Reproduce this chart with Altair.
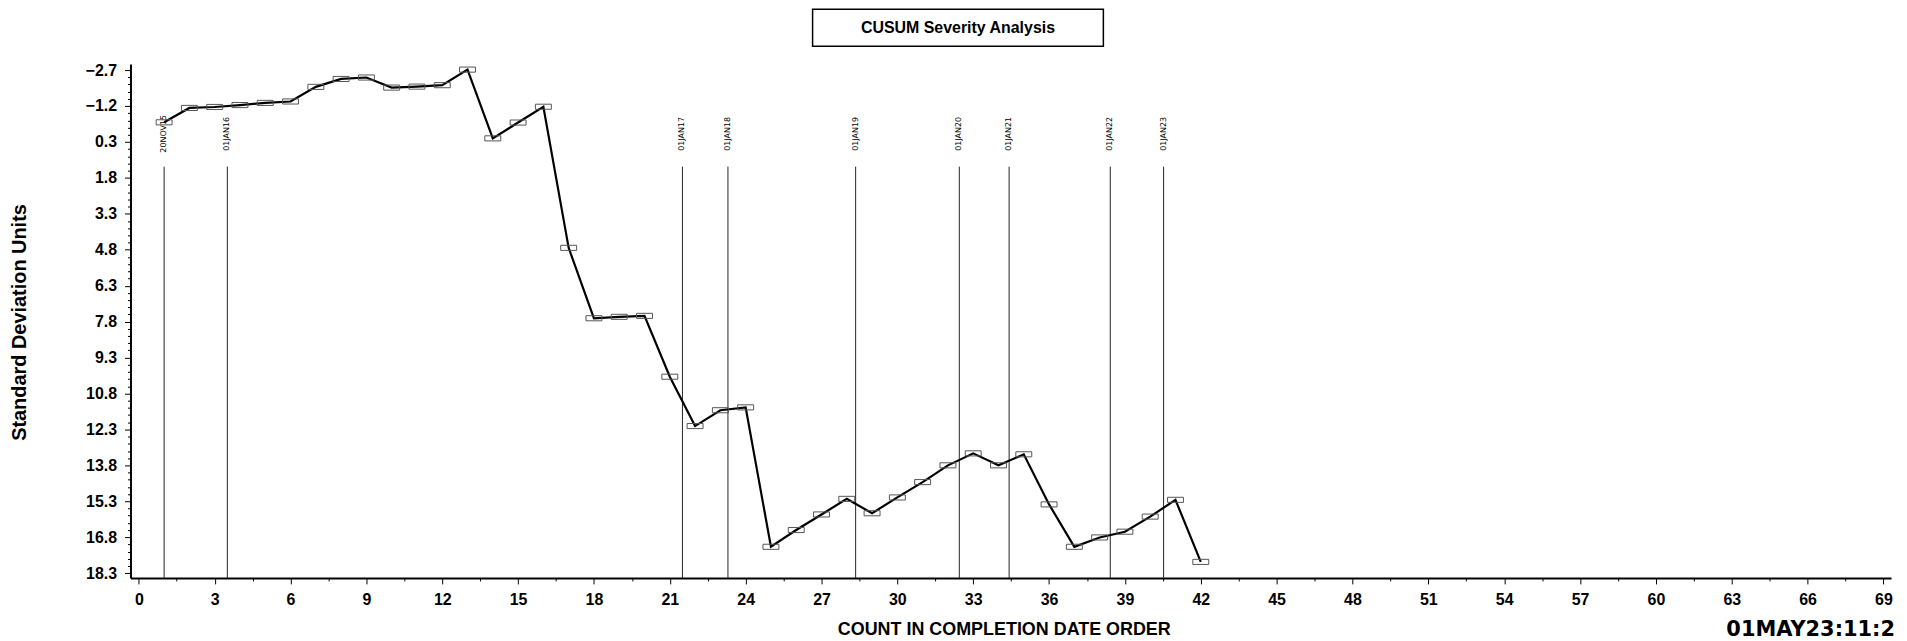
import altair as alt
import pandas as pd

# ---- data ----
counts = [1, 2, 3, 4, 5, 6, 7, 8, 9, 10, 11, 12, 13, 14, 15, 16, 17, 18, 19, 20, 21,
          22, 23, 24, 25, 26, 27, 28, 29, 30, 31, 32, 33, 34, 35, 36, 37, 38, 39, 40, 41, 42]
cusum = [-0.52, -1.12, -1.16, -1.24, -1.33, -1.39, -2.00, -2.33, -2.39, -1.97, -2.01, -2.07,
         -2.72, 0.15, -0.51, -1.17, 4.72, 7.66, 7.60, 7.56, 10.10, 12.16, 11.50, 11.38,
         17.20, 16.50, 15.85, 15.20, 15.80, 15.14, 14.50, 13.80, 13.30, 13.80, 13.34,
         15.43, 17.20, 16.81, 16.57, 15.94, 15.24, 17.83]

date_pos = [1.0, 3.5, 21.5, 23.3, 28.35, 32.45, 34.42, 38.42, 40.53]
date_labels = ["20NOV15", "01JAN16", "01JAN17", "01JAN18", "01JAN19",
               "01JAN20", "01JAN21", "01JAN22", "01JAN23"]

title_text = "CUSUM Severity Analysis"
x_title = "COUNT IN COMPLETION DATE ORDER"
y_title = "Standard Deviation Units"
stamp_text = "01MAY23:11:2"

y_ticks = [round(-2.7 + 0.3 * i, 1) for i in range(71)]
x_ticks = [round(1.5 * i, 1) for i in range(47)]

df = pd.DataFrame({"x": counts, "y": cusum})
dates = pd.DataFrame({"x": date_pos, "label": date_labels})

W, H = 1768, 516
FONT = "Liberation Sans"

x_axis = alt.Axis(
    values=x_ticks,
    labelExpr="datum.value % 3 == 0 ? format(datum.value, 'd') : ''",
    tickSize={"condition": {"test": "datum.value % 3 == 0", "value": 6}, "value": 3},
    labelOverlap=False,
    labelFlush=False,
    labelPadding=8,
    labelFontSize=16,
    labelFontWeight="bold",
    title=x_title,
    titleX=877,
    titleY=52,
    titleAlign="center",
    titleBaseline="middle",
    titleFontSize=18,
    titleFontWeight="bold",
)

y_axis = alt.Axis(
    values=y_ticks,
    labelExpr="abs((datum.value + 2.7) / 1.5 - round((datum.value + 2.7) / 1.5)) < 0.01 ? format(datum.value, '.1f') : ''",
    tickSize={"condition": {"test": "abs((datum.value + 2.7) / 1.5 - round((datum.value + 2.7) / 1.5)) < 0.01", "value": 6}, "value": 3},
    labelOverlap=False,
    labelFlush=False,
    labelPadding=8,
    labelFontSize=16,
    labelFontWeight="bold",
    title=y_title,
    titleAngle=270,
    titleX=-111,
    titleY=259,
    titleAlign="center",
    titleBaseline="middle",
    titleFontSize=20,
    titleFontWeight="bold",
)

x_enc = alt.X("x:Q", scale=alt.Scale(domain=[-0.33, 69.3], nice=False, zero=False), axis=x_axis)
y_enc = alt.Y("y:Q", scale=alt.Scale(domain=[18.5, -2.95], nice=False, zero=False), axis=y_axis)

line = alt.Chart(df).mark_line(color="black", strokeWidth=2.2).encode(x=x_enc, y=y_enc)

points = alt.Chart(df).mark_point(
    shape="M-1,-0.32L1,-0.32L1,0.32L-1,0.32Z",
    size=256, filled=False, stroke="#555555", strokeWidth=1, opacity=1,
).encode(x=x_enc, y=y_enc)

rules = alt.Chart(dates).mark_rule(color="#222222", strokeWidth=1).encode(
    x=x_enc, y=alt.value(103), y2=alt.value(H)
)

date_text = alt.Chart(dates).mark_text(
    angle=270, align="center", baseline="middle", font="DejaVu Sans", fontSize=8, color="black"
).encode(x=x_enc, y=alt.value(70), text="label:N")

title_df = pd.DataFrame({"t": [title_text]})
title_box = alt.Chart(title_df).mark_rect(
    fill="white", stroke="black", strokeWidth=1.5
).encode(x=alt.value(685), x2=alt.value(977), y=alt.value(-55), y2=alt.value(-18))
title_lbl = alt.Chart(title_df).mark_text(
    font=FONT, fontSize=16, fontWeight="bold", color="black", align="center", baseline="middle"
).encode(x=alt.value(831), y=alt.value(-36), text="t:N")

stamp_df = pd.DataFrame({"t": [stamp_text]})
stamp = alt.Chart(stamp_df).mark_text(
    font="DejaVu Sans", fontSize=21, fontWeight="bold", color="black", align="right", baseline="middle"
).encode(x=alt.value(1772), y=alt.value(568), text="t:N")

chart = alt.layer(rules, date_text, line, points, title_box, title_lbl, stamp).properties(
    width=W, height=H,
    padding={"left": 123, "top": 55, "right": 8, "bottom": 62},
    autosize=alt.AutoSizeParams(type="none"),
).configure_view(strokeWidth=0).configure_axis(
    grid=False,
    domainColor="black",
    domainWidth=2,
    tickColor="black",
    tickWidth=1,
    labelColor="black",
    titleColor="black",
    labelFont=FONT,
    titleFont=FONT,
)

chart.save("out.html", embed_options={"renderer": "svg", "actions": False})
